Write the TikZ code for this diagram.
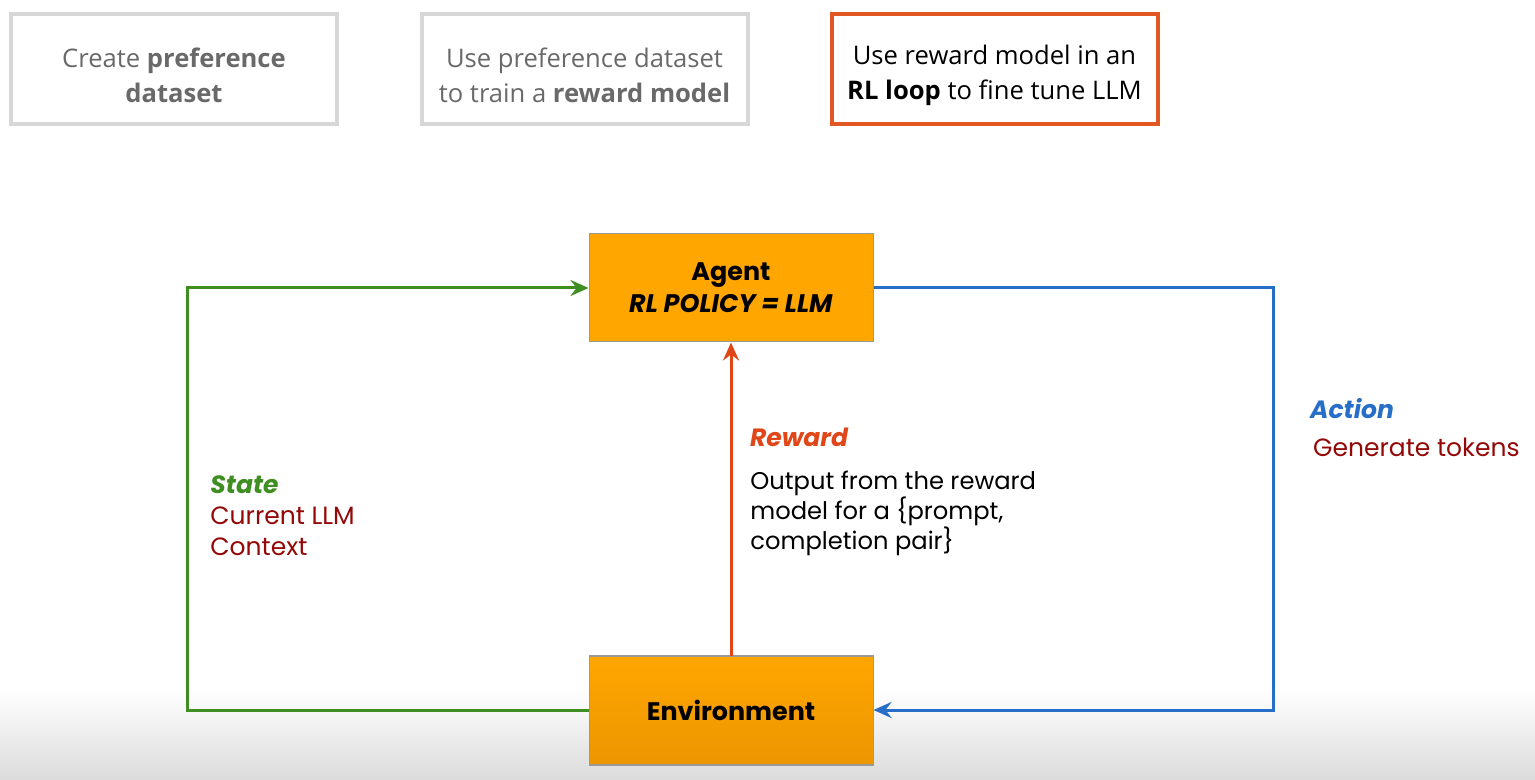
\documentclass[tikz,border=0pt]{standalone}
\usepackage{fontspec}
\setmainfont{Poppins}
\newfontfamily\stepfont{Open Sans}
\definecolor{boxgray}{RGB}{215,215,215}
\definecolor{stepgray}{RGB}{105,105,105}
\definecolor{rlorange}{RGB}{226,88,34}
\definecolor{agentorange}{RGB}{255,166,0}
\definecolor{envorange}{RGB}{236,150,0}
\definecolor{stategreen}{RGB}{62,142,34}
\definecolor{actionblue}{RGB}{38,110,200}
\definecolor{rewardred}{RGB}{224,70,24}
\definecolor{labelred}{RGB}{148,8,8}
\usetikzlibrary{shapes,arrows.meta,positioning,calc}

\begin{document}
\begin{tikzpicture}[x=0.5pt, y=-0.5pt, >={Stealth[length=9pt,width=8pt,inset=3pt]},
    stepbox/.style={draw=boxgray, line width=2pt, minimum width=163pt, minimum height=55pt},
    steptext/.style={align=center, font=\stepfont\fontsize{12.8}{17.5}\selectfont, text=stepgray},
    rlbox/.style={draw=black!40, line width=0.5pt, minimum width=142pt, minimum height=54pt,
        align=center, font=\fontsize{12.7}{16}\selectfont\bfseries},
    loopline/.style={line width=1.5pt},
    looplabel/.style={anchor=west, align=left, font=\fontsize{12.5}{15.5}\selectfont}]
    % Page and bottom fade
    \useasboundingbox (0,0) rectangle (1535,780);
    \fill[white] (0,0) rectangle (1535,780);
    \shade[top color=white, bottom color=black!14] (0,690) rectangle (1535,780);

    % Three steps across the top
    \node[stepbox] (prefbox) at (174,69) {};
    \node[stepbox] (rmbox) at (584.5,69) {};
    \node[stepbox, draw=rlorange] (rlbox) at (994.5,69) {};
    \node[steptext] (preftxt) at ([yshift=-3pt]prefbox.center) {Create \textbf{preference}\\\textbf{dataset}};
    \node[steptext] (rmtxt) at ([yshift=-3pt]rmbox.center) {Use preference dataset\\to train a \textbf{reward model}};
    \node[steptext, text=black] (rltxt) at ([yshift=-3pt]rlbox.center) {Use reward model in an\\\textbf{RL loop} to fine tune LLM};

    % Agent and environment
    \node[rlbox, fill=agentorange] (agent) at (731,288) {Agent\\\textit{RL POLICY = LLM}};
    \shade[top color=agentorange, bottom color=envorange, draw=black!40, line width=0.5pt]
        (589,655) rectangle (873,765);
    \node[rlbox] (env) at (731,710) {Environment};

    % Loop corners
    \coordinate (stateturn) at (187,710);
    \coordinate (actionturn) at (1273,288);

    % State (left), action (right), reward (middle)
    \draw[loopline, stategreen, ->] (env.west) -- (stateturn) |- (agent.west);
    \draw[loopline, actionblue, ->] (agent.east) -- (actionturn) |- (env.east);
    \draw[loopline, rewardred, ->] (env.north) -- (agent.south);

    % Labels beside the lines
    \node[looplabel, anchor=north west, inner sep=0pt] (statelbl) at (210,475)
        {\textcolor{stategreen}{\bfseries\itshape State}\\
         \textcolor{labelred}{Current LLM}\\
         \textcolor{labelred}{Context}};
    \node[looplabel, text=rewardred, font=\fontsize{12.5}{15}\selectfont\bfseries\itshape] (rewardlbl) at (743,437) {Reward};
    \node[looplabel, anchor=north west, inner sep=0pt, font=\fontsize{12.1}{15}\selectfont] (rewardtxt) at (750,471)
        {Output from the reward\\model for a \{prompt,\\completion pair\}};
    \node[looplabel, text=actionblue, font=\fontsize{12.5}{15}\selectfont\bfseries\itshape] (actionlbl) at (1303,409) {Action};
    \node[looplabel, text=labelred] (actiontxt) at (1306,447) {Generate tokens};
\end{tikzpicture}
\end{document}
